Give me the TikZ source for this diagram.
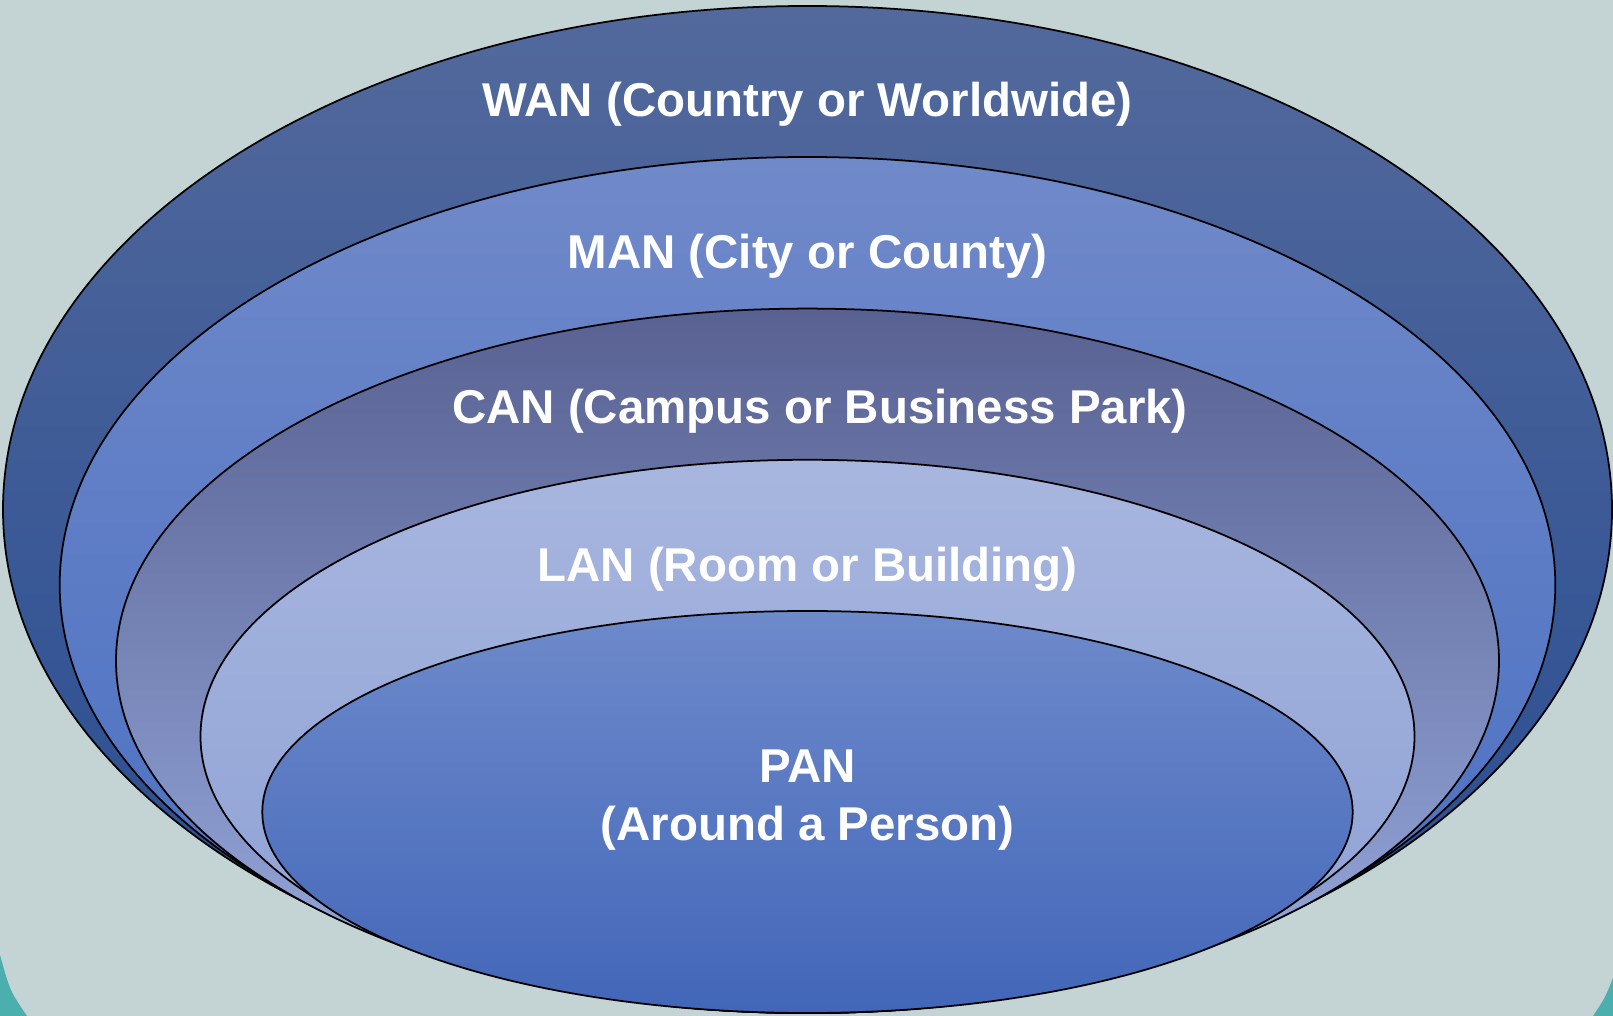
\documentclass[tikz,border=0pt]{standalone}
\usepackage{fontspec}
\setmainfont{Liberation Sans}
\usepackage{tikz}

\definecolor{bggrey}{RGB}{196,212,212}
\definecolor{bgteal}{RGB}{74,175,173}

\begin{document}
\begin{tikzpicture}[line width=0.5pt]
  \tikzstyle{net}=[draw=black]
  \tikzstyle{lbl}=[text=white,font=\fontsize{13.5}{16.4}\selectfont\bfseries,align=center]

  % background
  \useasboundingbox (0,0) rectangle (16.13,10.16);
  \fill[bggrey] (0,0) rectangle (16.13,10.16);
  \fill[bgteal] (0,0.61) .. controls (0.1,0.25) .. (0.27,0) -- (0,0) -- cycle;
  \fill[bgteal] (16.13,0.38) .. controls (16.05,0.18) .. (15.93,0) -- (16.13,0) -- cycle;

  % nested areas
  \shade[net,top color={rgb,255:red,83;green,105;blue,156},bottom color={rgb,255:red,38;green,75;blue,145}]
    (8.075,5.065) ellipse (8.045 and 5.035);
  \shade[net,top color={rgb,255:red,112;green,137;blue,201},bottom color={rgb,255:red,72;green,110;blue,194}]
    (8.075,4.31) ellipse (7.478 and 4.28);
  \shade[net,top color={rgb,255:red,88;green,97;blue,146},middle color={rgb,255:red,150;green,166;blue,218},
         bottom color={rgb,255:red,152;green,170;blue,221}]
    (8.075,3.552) ellipse (6.915 and 3.522);
  \shade[net,top color={rgb,255:red,168;green,182;blue,223},bottom color={rgb,255:red,140;green,160;blue,212}]
    (8.075,2.796) ellipse (6.07 and 2.766);
  \shade[net,top color={rgb,255:red,110;green,138;blue,203},bottom color={rgb,255:red,66;green,102;blue,184}]
    (8.075,2.04) ellipse (5.452 and 2.01);

  \node[lbl] (wan) at (8.075,9.12) {WAN (Country or Worldwide)};
  \node[lbl] (man) at (8.075,7.60) {MAN (City or County)};
  \node[lbl] (can) at (8.2,6.05) {CAN (Campus or Business Park)};
  \node[lbl] (lan) at (8.075,4.47) {LAN (Room or Building)};
  \node[lbl] (pan) at (8.075,2.16) {PAN\\(Around a Person)};
\end{tikzpicture}
\end{document}
